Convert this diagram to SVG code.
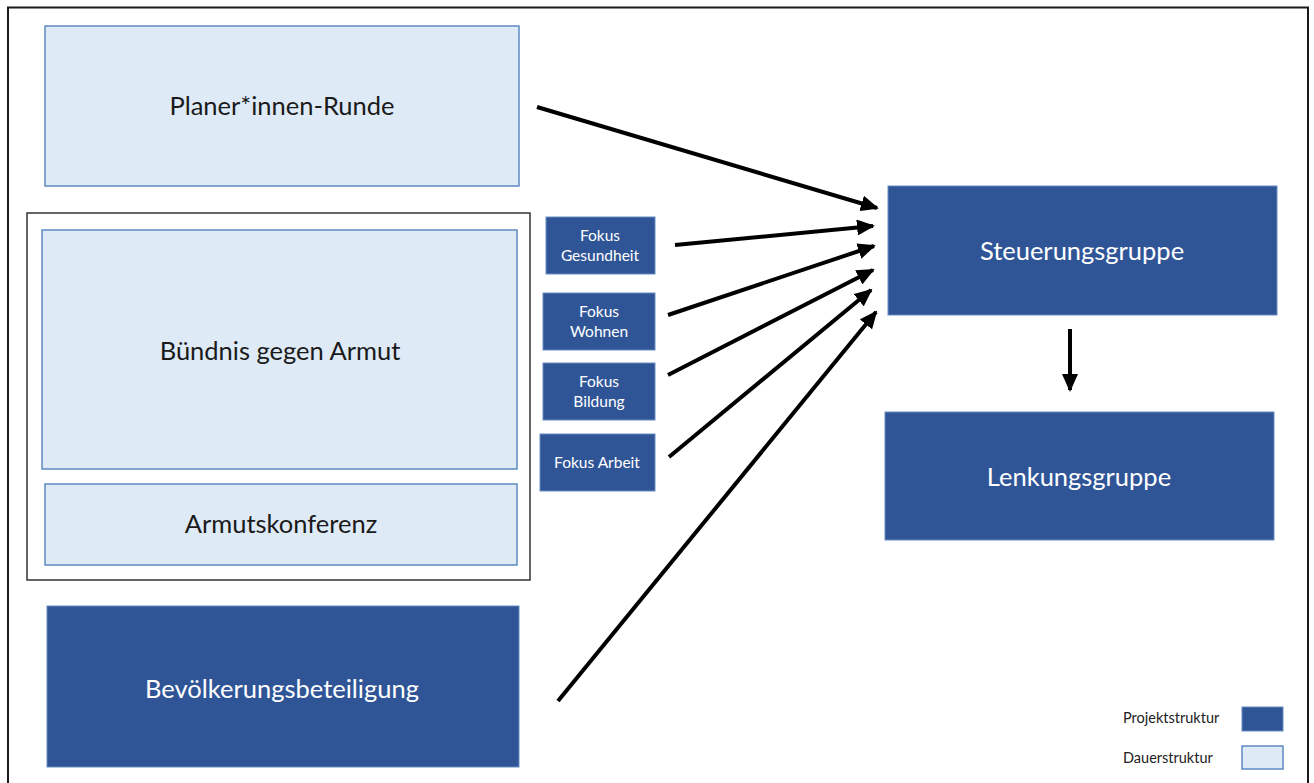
<svg xmlns="http://www.w3.org/2000/svg" width="1314" height="783" viewBox="0 0 1314 783">
  <defs>
    <style>
      .dauer { fill: #DEEAF6; stroke: #5D8AC4; stroke-width: 1.5; }
      .projekt { fill: #2F5597; stroke: #6A8CC2; stroke-width: 1; }
      .lbl { font-family: Lato, "Liberation Sans", sans-serif; text-anchor: middle; }
      .dark { fill: #1A1A1A; font-size: 25.5px; }
      .light { fill: #FFFFFF; font-size: 25.5px; }
      .small { fill: #FFFFFF; font-size: 15.5px; }
      .legend { font-family: Lato, "Liberation Sans", sans-serif; font-size: 14.5px; fill: #222; }
      .conn { stroke: #000; stroke-width: 4; fill: none; marker-end: url(#head); }
    </style>
    <marker id="head" markerUnits="userSpaceOnUse" markerWidth="18" markerHeight="16" refX="16" refY="8" orient="auto">
      <path d="M0,0 L18,8 L0,16 Z" fill="#000"/>
    </marker>
  </defs>

  <rect x="0" y="0" width="1314" height="783" fill="#FFFFFF"/>
  <!-- outer frame, open at the bottom -->
  <path d="M8,790 L8,7.5 L1308,7.5 L1308,790" fill="none" stroke="#1A1A1A" stroke-width="2"/>

  <g id="planer">
    <rect class="dauer" x="45" y="26" width="474" height="160"/>
    <text class="lbl dark" x="282" y="115">Planer*innen-Runde</text>
  </g>

  <g id="buendnis-gruppe">
    <rect x="27" y="213" width="503" height="367" fill="none" stroke="#333" stroke-width="1.5"/>
    <g id="buendnis">
      <rect class="dauer" x="42" y="230" width="475" height="239"/>
      <text class="lbl dark" x="280" y="360">Bündnis gegen Armut</text>
    </g>
    <g id="armutskonferenz">
      <rect class="dauer" x="45" y="484" width="472" height="81"/>
      <text class="lbl dark" x="281" y="533">Armutskonferenz</text>
    </g>
  </g>

  <g id="bevoelkerung">
    <rect class="projekt" x="47" y="606" width="472" height="161"/>
    <text class="lbl light" x="282" y="698">Bevölkerungsbeteiligung</text>
  </g>

  <g id="fokus-gesundheit">
    <rect class="projekt" x="546" y="217" width="109" height="57"/>
    <text class="lbl small" x="600" y="241">Fokus</text>
    <text class="lbl small" x="600" y="261">Gesundheit</text>
  </g>
  <g id="fokus-wohnen">
    <rect class="projekt" x="543" y="293" width="112" height="57"/>
    <text class="lbl small" x="599" y="317">Fokus</text>
    <text class="lbl small" x="599" y="337">Wohnen</text>
  </g>
  <g id="fokus-bildung">
    <rect class="projekt" x="543" y="363" width="112" height="57"/>
    <text class="lbl small" x="599" y="387">Fokus</text>
    <text class="lbl small" x="599" y="407">Bildung</text>
  </g>
  <g id="fokus-arbeit">
    <rect class="projekt" x="540" y="434" width="115" height="57"/>
    <text class="lbl small" x="597" y="468">Fokus Arbeit</text>
  </g>

  <g id="steuerungsgruppe">
    <rect class="projekt" x="888" y="186" width="389" height="129"/>
    <text class="lbl light" x="1082" y="260">Steuerungsgruppe</text>
  </g>
  <g id="lenkungsgruppe">
    <rect class="projekt" x="885" y="412" width="389" height="128"/>
    <text class="lbl light" x="1079" y="486">Lenkungsgruppe</text>
  </g>

  <g id="connectors">
    <line class="conn" x1="537" y1="107" x2="877" y2="208"/>
    <line class="conn" x1="675" y1="245" x2="873" y2="226"/>
    <line class="conn" x1="668" y1="315" x2="874" y2="246"/>
    <line class="conn" x1="668" y1="375" x2="873" y2="270"/>
    <line class="conn" x1="669" y1="457" x2="871" y2="290"/>
    <line class="conn" x1="558" y1="701" x2="876" y2="312"/>
    <line class="conn" x1="1070" y1="329" x2="1070" y2="390"/>
  </g>

  <g id="legende">
    <text class="legend" x="1123" y="723">Projektstruktur</text>
    <rect class="projekt" x="1242" y="707" width="41" height="24"/>
    <text class="legend" x="1123" y="763">Dauerstruktur</text>
    <rect class="dauer" x="1242" y="746" width="41" height="23"/>
  </g>
</svg>
